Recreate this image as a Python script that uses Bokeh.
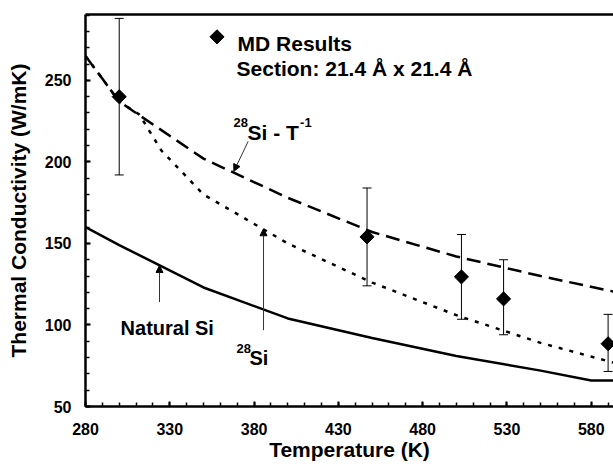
import numpy as np
from bokeh.plotting import figure
from bokeh.models import (Range1d, Whisker, TeeHead, Arrow, NormalHead, LinearAxis,
                          FixedTicker, ColumnDataSource, Label)
from bokeh.embed import file_html
from bokeh.resources import INLINE

# ---------------- data ----------------
curve_temp = [280, 300, 350, 400, 450, 500, 550, 600]
si28_t1 = [265, 237, 202, 178, 157, 142, 130, 119]      # 28Si - T^-1 (dashed)

si28_temp = [280, 300, 312, 325, 350, 400, 450, 500, 550, 600]
si28 = [265, 237, 229, 207, 180, 150, 126, 106, 89, 75]  # 28Si (dotted)

natural_temp = [280, 300, 350, 400, 450, 500, 550, 580, 600]
natural_si = [160, 149, 123, 104, 92, 81, 72, 66, 66]    # Natural Si (solid)

md_temp = [300, 447, 503, 528, 590]
md_k = [240, 154, 129.5, 116, 88.5]
md_hi = [288, 184, 155.5, 140, 106.5]
md_lo = [192, 124, 103.5, 94, 71.5]

x_ticks = [280, 330, 380, 430, 480, 530, 580]
y_ticks = [50, 100, 150, 200, 250]

FONT = "Liberation Sans"

p = figure(width=613, height=464, x_range=Range1d(280, 593.2), y_range=Range1d(50, 290.4),
           output_backend="svg", toolbar_location=None,
           min_border_left=85, min_border_right=0, min_border_top=14, min_border_bottom=58)
p.outline_line_color = None
p.grid.visible = False
p.background_fill_color = "white"
p.border_fill_color = "white"

xa = p.xaxis[0]
ya = p.yaxis[0]
xa.ticker = FixedTicker(ticks=x_ticks, minor_ticks=list(range(280, 600, 10)))
ya.ticker = FixedTicker(ticks=y_ticks, minor_ticks=list(range(50, 291, 10)))
for ax in (xa, ya):
    ax.axis_line_width = 2.5
    ax.axis_line_color = "black"
    ax.major_tick_in = 5
    ax.major_tick_out = 0
    ax.minor_tick_in = 4
    ax.minor_tick_out = 0
    ax.major_tick_line_width = 2
    ax.minor_tick_line_width = 1.5
    ax.major_tick_line_color = "black"
    ax.minor_tick_line_color = "black"
    ax.major_label_text_font = FONT
    ax.major_label_text_font_style = "bold"
    ax.major_label_text_font_size = "16px"
    ax.major_label_text_color = "black"
    ax.axis_label_text_font = FONT
    ax.axis_label_text_font_style = "bold"
    ax.axis_label_text_font_size = "21px"
    ax.axis_label_text_color = "black"
xa.axis_label = "Temperature (K)"
ya.axis_label = "Thermal Conductivity (W/mK)"
xa.major_label_standoff = 16
xa.axis_label_standoff = 0
ya.major_label_standoff = 14
ya.axis_label_standoff = 12

top = LinearAxis(ticker=FixedTicker(ticks=[]), axis_line_width=2.5, axis_line_color="black",
                 major_tick_line_color=None, minor_tick_line_color=None,
                 major_label_standoff=0, major_label_text_font_size="0px")
p.add_layout(top, "above")

# curves
p.line(natural_temp, natural_si, line_color="black", line_width=2.5)
p.line(curve_temp, si28_t1, line_color="black", line_width=2.5, line_dash="14 7")
p.line(si28_temp, si28, line_color="black", line_width=2.5, line_dash="4 7")

# MD results
src = ColumnDataSource(dict(t=md_temp, k=md_k, hi=md_hi, lo=md_lo))
p.add_layout(Whisker(source=src, base="t", upper="hi", lower="lo", line_width=1, line_color="black",
                     upper_head=TeeHead(size=9, line_width=1, line_color="black"),
                     lower_head=TeeHead(size=9, line_width=1, line_color="black")))
p.scatter("t", "k", source=src, marker="square", angle=np.pi / 4, size=10,
          fill_color="black", line_color="black")

# legend block
p.scatter([358], [276.7], marker="square", angle=np.pi / 4, size=10, fill_color="black", line_color="black")
for txt, x, y in [("MD Results", 370.2, 272.5), ("Section: 21.4 Å x 21.4 Å", 369.6, 257.2)]:
    p.add_layout(Label(x=x, y=y, text=txt, text_font=FONT, text_font_style="bold",
                       text_font_size="21px", text_baseline="alphabetic", text_color="black"))

# annotations
def lab(txt, x, y, size):
    p.add_layout(Label(x=x, y=y, text=txt, text_font=FONT, text_font_style="bold",
                       text_font_size=size, text_baseline="alphabetic", text_color="black"))

lab("28", 367.8, 224.3, "13px")
lab("Si - T", 376.1, 218.1, "21px")
lab("-1", 407.3, 224.3, "13px")
lab("Natural Si", 300.8, 98.2, "20px")
lab("28", 369.6, 85.8, "13px")
lab("Si", 377.3, 79.7, "20px")

def arrow(x0, y0, x1, y1):
    p.add_layout(Arrow(x_start=x0, y_start=y0, x_end=x1, y_end=y1, line_color="#333333", line_width=1,
                       end=NormalHead(size=7, fill_color="black", line_color="black", line_width=1)))

arrow(376.5, 212.6, 368.0, 194.2)
arrow(323.9, 114.0, 323.9, 136.5)
arrow(385.6, 96.8, 385.6, 159.0)

open("out.html", "w").write(file_html(p, INLINE))
